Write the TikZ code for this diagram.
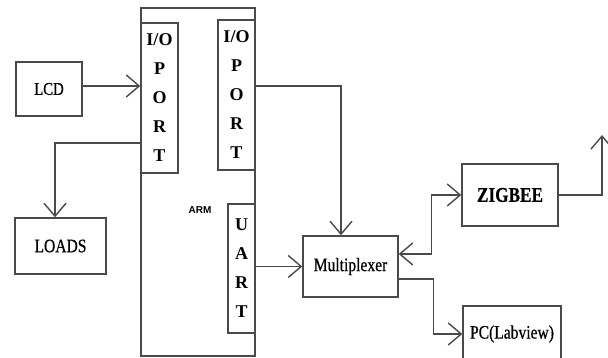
\documentclass[tikz,border=0pt]{standalone}
\usepackage{fontspec}
\setmainfont{Liberation Serif}
\newfontfamily\armfont{Liberation Sans}
\newfontfamily\condfont[FakeStretch=0.82,FakeBold=0.6]{Liberation Serif}
\usetikzlibrary{arrows.meta}
\definecolor{linecol}{HTML}{4A4A4A}
\begin{document}
\begin{tikzpicture}[x=1pt, y=-1pt,
  box/.style={draw=linecol, line width=1.4pt, rectangle, inner sep=0pt, text=black},
  port/.style={box, align=center, font=\fontsize{18}{29}\selectfont\bfseries},
  conn/.style={draw=linecol, line width=1.4pt, -{Straight Barb[length=13pt,width=22pt,line width=1.4pt]}},
  both/.style={draw=linecol, line width=1.4pt, {Straight Barb[length=13pt,width=22pt,line width=1.4pt]}-{Straight Barb[length=13pt,width=22pt,line width=1.4pt]}}]
\useasboundingbox (0,0) rectangle (608,358);
\node[box, minimum width=114pt, minimum height=348pt] (arm) at (198,182) {};
\node[port, minimum width=37pt, minimum height=150pt] (portL) at (159.5,98) {I/O\\P\\O\\R\\T};
\node[port, minimum width=37pt, minimum height=150pt] (portR) at (236.5,95) {I/O\\P\\O\\R\\T};
\node[port, minimum width=27pt, minimum height=129pt] (uart) at (241.5,268.5) {U\\A\\R\\T};
\node[font=\armfont\bfseries\fontsize{10}{12}\selectfont] (armlbl) at (200,210) {ARM};
\node[box, minimum width=66pt, minimum height=54pt, font=\condfont\fontsize{18}{20}\selectfont] (lcd) at (49,89) {LCD};
\node[box, minimum width=91pt, minimum height=56pt, font=\condfont\fontsize{19}{22}\selectfont] (loads) at (60.5,246) {LOADS};
\node[box, minimum width=95pt, minimum height=61pt, font=\condfont\fontsize{19}{22}\selectfont] (mux) at (350.5,266.5) {Multiplexer};
\node[box, minimum width=96pt, minimum height=62pt, font=\condfont\fontsize{21}{24}\selectfont\bfseries] (zig) at (510,195) {ZIGBEE};
\node[box, minimum width=98pt, minimum height=56pt, font=\condfont\fontsize{19}{22}\selectfont] (pc) at (512,334) {PC(Labview)};
\coordinate (ant) at (602,135);
% connections
\draw[conn] ([yshift=3pt]lcd.east) -- ([yshift=3pt]lcd.east -| portL.west);
\draw[conn] ([yshift=-45pt]portL.west) -| ([xshift=-5.5pt]loads.north);
\draw[conn] ([yshift=9pt]portR.east) -| ([xshift=-9.5pt]mux.north);
\draw[conn] ([yshift=2pt]uart.east) -- ([yshift=2pt]uart.east -| mux.west);
\draw[both] ([yshift=12.5pt]mux.east) -- ++(33,0) |- (zig.west);
\draw[conn] ([yshift=-12.5pt]mux.east) -- ++(35,0) |- (pc.west);
\draw[conn] (zig.east) -| (ant);
\end{tikzpicture}
\end{document}
